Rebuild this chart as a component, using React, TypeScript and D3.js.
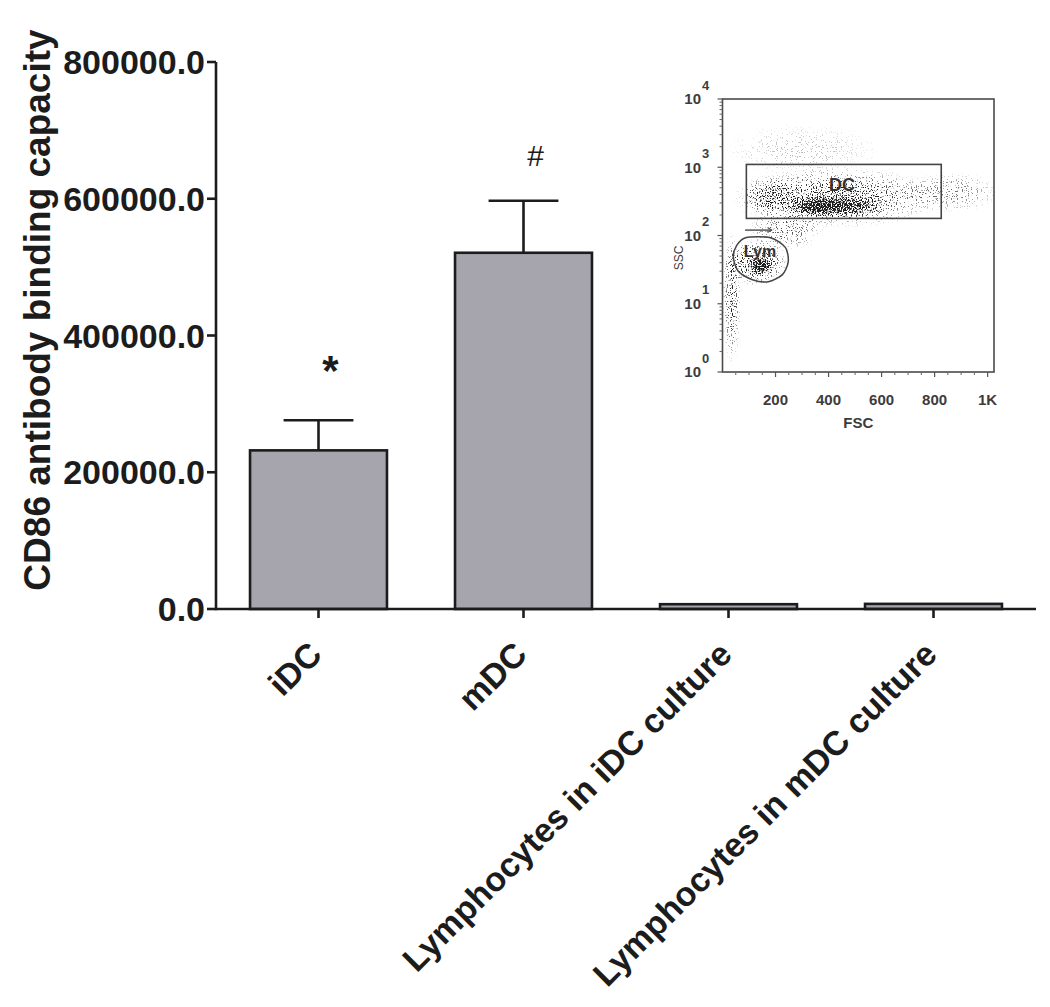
import React from 'react';
import * as d3 from 'd3';

// ---------- main bar chart data ----------
const categories = ['iDC', 'mDC', 'Lymphocytes in iDC culture', 'Lymphocytes in mDC culture'];
const means = [232000, 521000, 7000, 7500];
const sems = [44000, 76000, 0, 0];
const marks = ['*', '#', '', ''];
const yTicks = [0, 200000, 400000, 600000, 800000];
const yTitle = 'CD86 antibody binding capacity';

// ---------- inset (FSC / SSC dot plot) data ----------
const fscTicks = [200, 400, 600, 800, 1000];
const fscTickLabels = ['200', '400', '600', '800', '1K'];
const sscDecades = [0, 1, 2, 3, 4];
const dcGate = { fsc0: 90, fsc1: 825, ssc0: 178, ssc1: 1100 };
const lymGate: [number, number][] = [
  [87, 93], [181, 93], [237, 67], [248, 41.5], [226, 26.7], [173, 21],
  [113, 22.5], [60, 29.6], [41, 47.5], [53, 71],
];
const lymArrow: [number, number][] = [[85, 120], [185, 120]];
// event clouds: centre (FSC, SSC), half-width in FSC units, half-height in decades, density
const cloudFsc = [420, 350, 430, 860, 180, 145, 130, 35, 240, 300];
const cloudSsc = [270, 260, 360, 430, 380, 36, 40, 12, 120, 1800];
const cloudDFsc = [200, 90, 400, 190, 110, 50, 120, 35, 150, 300];
const cloudDLog = [0.17, 0.12, 0.45, 0.3, 0.3, 0.13, 0.35, 1.0, 0.3, 0.4];
const cloudDens = [0.8, 0.6, 0.4, 0.22, 0.35, 0.95, 0.45, 0.35, 0.28, 0.1];

const FONT = '"Liberation Sans", Arial, Helvetica, sans-serif';

export default function App() {
  const W = 1050;
  const H = 1007;
  const x = d3.scaleBand<string>().domain(categories).range([216, 1036]).paddingInner(0.332).paddingOuter(0.166);
  const y = d3.scaleLinear().domain([0, 800000]).range([609, 62]);
  const bw = x.bandwidth();
  const ink = '#1c1c1c';

  // inset scales
  const fx = d3.scaleLinear().domain([0, 1024]).range([722.5, 994]);
  const sy = d3.scaleLog().domain([1, 10000]).range([372, 99]);
  const gray = '#3c3c3c';

  const sscMinor: number[] = [];
  for (let d = 0; d < 4; d++) for (let k = 2; k <= 9; k++) sscMinor.push(k * Math.pow(10, d));
  const fscMinor = d3.range(50, 1024, 50).filter((v) => v % 200 !== 0);

  const gatePath = d3.line<[number, number]>().x((d) => fx(d[0])).y((d) => sy(d[1])).curve(d3.curveCardinalClosed.tension(0.2))(lymGate) || '';

  return (
    <svg width={W} height={H} style={{ position: 'absolute', left: 0, top: 0, background: '#fff' }} fontFamily={FONT}>
      <defs>
        <radialGradient id="cloudGrad">
          <stop offset="0" stopColor="#000" stopOpacity={1} />
          <stop offset="0.45" stopColor="#000" stopOpacity={0.8} />
          <stop offset="1" stopColor="#000" stopOpacity={0} />
        </radialGradient>
        <filter id="speckle" filterUnits="userSpaceOnUse" x={716} y={99} width={279} height={273} colorInterpolationFilters="sRGB">
          <feGaussianBlur in="SourceAlpha" stdDeviation="1.5" result="dens" />
          <feTurbulence type="fractalNoise" baseFrequency="0.8" numOctaves={1} seed={4} result="noise" />
          <feColorMatrix in="noise" type="matrix" values="0 0 0 0 0  0 0 0 0 0  0 0 0 0 0  3.2 0 0 0 -1.1" result="nA" />
          <feComposite in="dens" in2="nA" operator="arithmetic" k1={0} k2={1} k3={1} k4={-1} result="sum" />
          <feComponentTransfer in="sum" result="th">
            <feFuncA type="linear" slope={3} intercept={0} />
          </feComponentTransfer>
          <feFlood floodColor="#1a1a1a" result="inkc" />
          <feComposite in="inkc" in2="th" operator="in" />
        </filter>
      </defs>

      {/* ---------- main chart ---------- */}
      {categories.map((c, i) => (
        <rect key={c} x={x(c)} y={y(means[i])} width={bw} height={y(0) - y(means[i])}
          fill="#a6a5ae" stroke={ink} strokeWidth={2.6} />
      ))}
      {categories.map((c, i) => {
        if (!sems[i]) return null;
        const cx = (x(c) as number) + bw / 2;
        const top = y(means[i] + sems[i]);
        return (
          <g key={'e' + c} stroke={ink} strokeWidth={2.6}>
            <line x1={cx} x2={cx} y1={y(means[i])} y2={top} />
            <line x1={cx - bw * 0.255} x2={cx + bw * 0.255} y1={top} y2={top} />
          </g>
        );
      })}
      {categories.map((c, i) => {
        if (!marks[i]) return null;
        const cx = (x(c) as number) + bw / 2;
        const top = y(means[i] + sems[i]);
        const isStar = marks[i] === '*';
        return (
          <text key={'m' + c} x={cx + 12} y={top - 35} textAnchor="middle" fill={ink}
            fontSize={isStar ? 42 : 30} fontWeight={isStar ? 700 : 400}>{marks[i]}</text>
        );
      })}
      <line x1={216} x2={1036} y1={y(0)} y2={y(0)} stroke={ink} strokeWidth={2.6} />
      <line x1={216} x2={216} y1={y(0) + 1.3} y2={y(800000)} stroke={ink} strokeWidth={2.6} />
      {yTicks.map((t) => (
        <g key={'yt' + t}>
          <line x1={207} x2={216} y1={y(t)} y2={y(t)} stroke={ink} strokeWidth={2.6} />
          <text x={205} y={y(t)} dy="0.36em" textAnchor="end" fontSize={34} fontWeight={700} fill={ink}>
            {d3.format('.1f')(t)}
          </text>
        </g>
      ))}
      {categories.map((c) => {
        const cx = (x(c) as number) + bw / 2;
        return (
          <g key={'xt' + c}>
            <line x1={cx} x2={cx} y1={y(0)} y2={y(0) + 9} stroke={ink} strokeWidth={2.6} />
            <text transform={`translate(${cx - 3},${648}) rotate(-45)`} dy="0.35em" textAnchor="end"
              fontSize={34} fontWeight={700} fill={ink}>{c}</text>
          </g>
        );
      })}
      <text transform={`translate(37,${310}) rotate(-90)`} dy="0.35em" textAnchor="middle" fontSize={37}
        fontWeight={700} fill={ink}>{yTitle}</text>

      {/* ---------- inset ---------- */}
      <g filter="url(#speckle)">
        {cloudFsc.map((f, i) => {
          const cx = fx(f);
          const cy = sy(cloudSsc[i]);
          const rx = fx(f + cloudDFsc[i]) - cx;
          const ry = cy - sy(cloudSsc[i] * Math.pow(10, cloudDLog[i]));
          return <ellipse key={'cl' + i} cx={cx} cy={cy} rx={rx} ry={ry} fill="url(#cloudGrad)" fillOpacity={cloudDens[i]} />;
        })}
      </g>
      <rect x={fx(0)} y={sy(10000)} width={fx(1024) - fx(0)} height={sy(1) - sy(10000)} fill="none" stroke="#4a4a4a" strokeWidth={1.6} />
      <rect x={fx(dcGate.fsc0)} y={sy(dcGate.ssc1)} width={fx(dcGate.fsc1) - fx(dcGate.fsc0)}
        height={sy(dcGate.ssc0) - sy(dcGate.ssc1)} fill="none" stroke="#444" strokeWidth={1.6} />
      <path d={gatePath} fill="none" stroke="#444" strokeWidth={1.5} />
      <line x1={fx(lymArrow[0][0])} x2={fx(lymArrow[1][0])} y1={sy(lymArrow[0][1])} y2={sy(lymArrow[1][1])} stroke="#555" strokeWidth={1.5} />
      <path d={`M${fx(lymArrow[1][0]) - 4},${sy(lymArrow[1][1]) - 2.5} L${fx(lymArrow[1][0])},${sy(lymArrow[1][1])} L${fx(lymArrow[1][0]) - 4},${sy(lymArrow[1][1]) + 2.5}`} fill="none" stroke="#555" strokeWidth={1.2} />
      <text x={842} y={185} dy="0.35em" textAnchor="middle" fontSize={18} fontWeight={700} fill="#333">DC</text>
      <text x={760} y={251} dy="0.35em" textAnchor="middle" fontSize={16} fontWeight={700} fill="#333">Lym</text>
      {sscDecades.map((d) => (
        <g key={'sd' + d}>
          <line x1={fx(0) - 5} x2={fx(0)} y1={sy(Math.pow(10, d))} y2={sy(Math.pow(10, d))} stroke="#555" strokeWidth={1.2} />
          <text x={701} y={sy(Math.pow(10, d))} dy="0.36em" textAnchor="end" fontSize={15} fontWeight={700} fill={gray}>10</text>
          <text x={702} y={sy(Math.pow(10, d)) - 14} dy="0.36em" textAnchor="start" fontSize={13} fontWeight={700} fill={gray}>{d}</text>
        </g>
      ))}
      {sscMinor.map((v) => (
        <line key={'sm' + v} x1={fx(0) - 3} x2={fx(0)} y1={sy(v)} y2={sy(v)} stroke="#666" strokeWidth={1} />
      ))}
      {fscTicks.map((t, i) => (
        <g key={'ft' + t}>
          <line x1={fx(t)} x2={fx(t)} y1={sy(1)} y2={sy(1) + 5} stroke="#555" strokeWidth={1.2} />
          <text x={fx(t)} y={400} dy="0.36em" textAnchor="middle" fontSize={15} fontWeight={700} fill={gray}>{fscTickLabels[i]}</text>
        </g>
      ))}
      {fscMinor.map((v) => (
        <line key={'fm' + v} x1={fx(v)} x2={fx(v)} y1={sy(1)} y2={sy(1) + 3} stroke="#666" strokeWidth={1} />
      ))}
      <text x={(fx(0) + fx(1024)) / 2} y={423} dy="0.36em" textAnchor="middle" fontSize={15} fontWeight={700} fill={gray}>FSC</text>
      <text transform="translate(679,258) rotate(-90)" dy="0.36em" textAnchor="middle" fontSize={12} fill={gray}>SSC</text>
    </svg>
  );
}
